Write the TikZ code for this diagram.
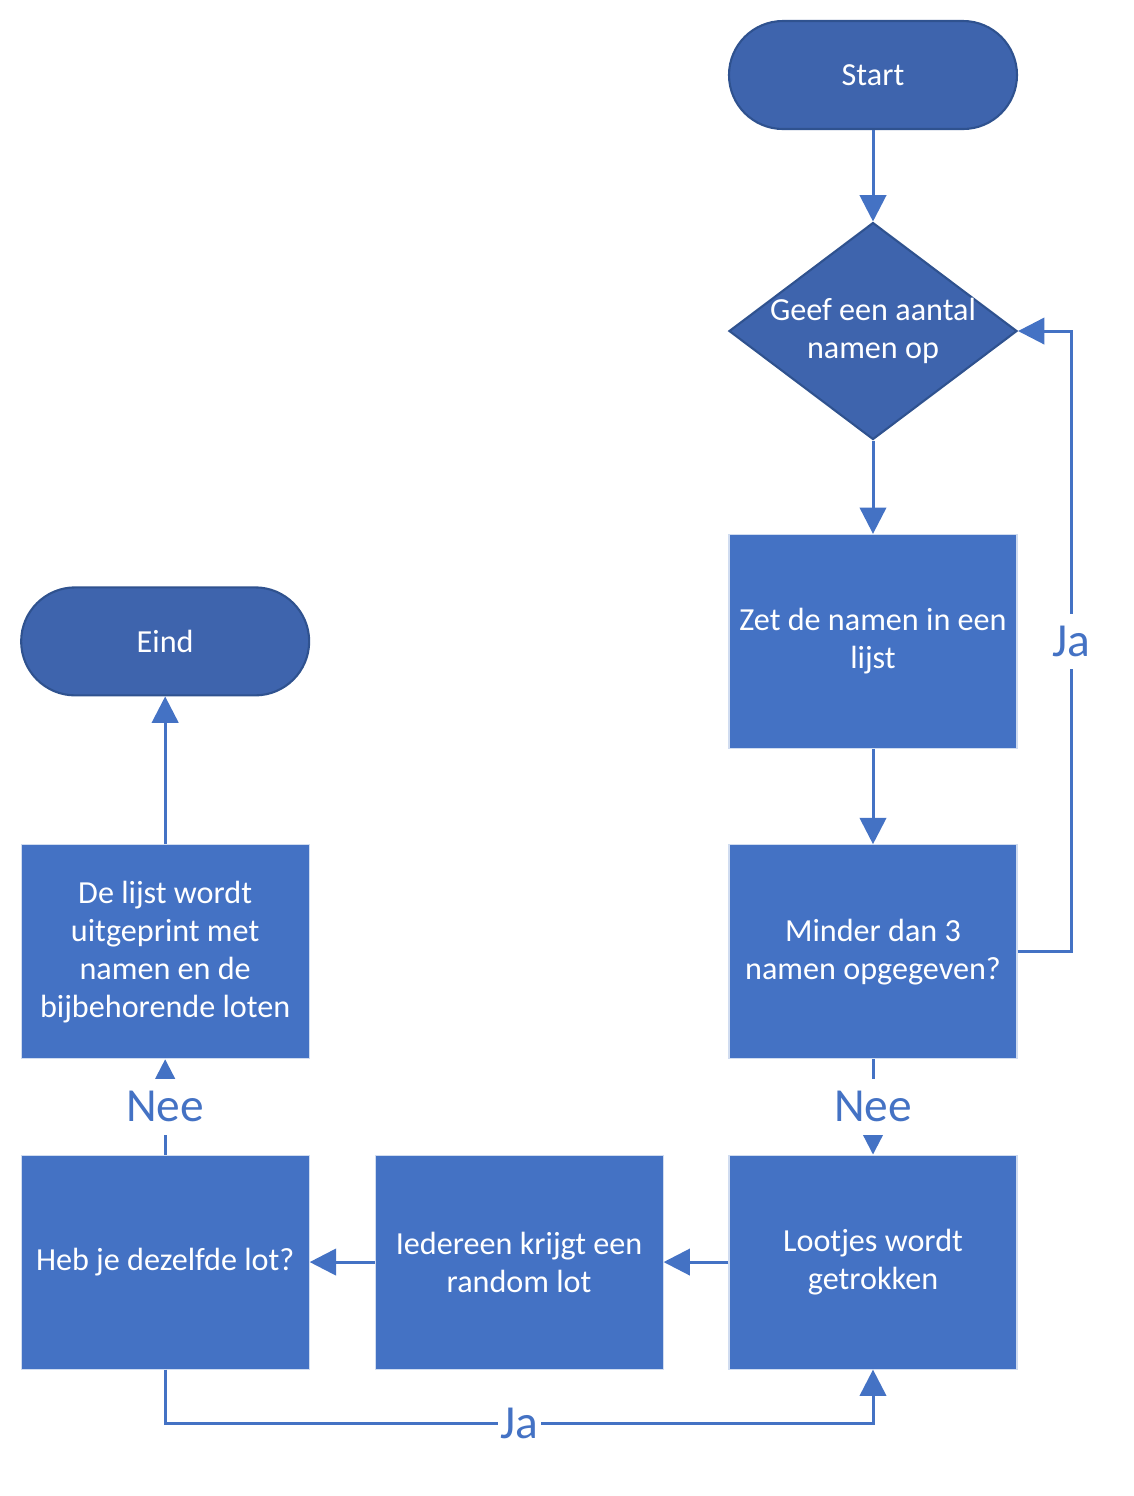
\documentclass[tikz,border=0pt]{standalone}
\usepackage{fontspec}
\setmainfont{Carlito}
\usetikzlibrary{shapes.geometric,arrows.meta}

\definecolor{boxblue}{HTML}{4472C4}
\definecolor{termblue}{HTML}{3E64AD}
\definecolor{edgeblue}{HTML}{2F528F}

\tikzset{
  stepbox/.style={shape=rectangle, fill=boxblue, draw=white!75!boxblue, line width=0.6pt,
    minimum width=5.76cm, minimum height=4.28cm, inner sep=0pt, text=white, align=center,
    font=\fontsize{18.3}{21.6}\selectfont},
  termbox/.style={shape=rectangle, rounded corners=1.08cm, fill=termblue, draw=edgeblue, line width=1.2pt,
    minimum width=5.76cm, minimum height=2.16cm, text=white, font=\fontsize{18.3}{21.6}\selectfont},
  askbox/.style={shape=diamond, fill=termblue, draw=edgeblue, line width=1.2pt, inner sep=0pt,
    minimum width=5.76cm, minimum height=4.34cm},
  flow/.style={draw=boxblue, line width=1.7pt, -{Triangle[length=15pt,width=15pt]}},
  answer/.style={fill=white, text=boxblue, inner xsep=1.5pt, inner ysep=7pt, font=\fontsize{27}{30}\selectfont}
}

\begin{document}
\begin{tikzpicture}[node distance=176.6pt]
\useasboundingbox (0,0) rectangle (22.68,-29.92);

\node [termbox] (N1) at (17.46,-1.5) {Start};
\node [askbox, below of=N1, node distance=145.7pt,
  label={[text=white, align=center, font=\fontsize{18.3}{21.6}\selectfont]center:Geef een aantal\\namen op}] (N2) {};
\node [stepbox, below of=N2] (N3) {Zet de namen in een\\lijst};
\node [stepbox, below of=N3] (N4) {Minder dan 3\\namen opgegeven?};
\node [stepbox, below of=N4] (N5) {Lootjes wordt\\getrokken};
\node [stepbox, left of=N5, node distance=201.4pt] (N6) {Iedereen krijgt een\\random lot};
\node [stepbox, left of=N6, node distance=201.4pt] (N7) {Heb je dezelfde lot?};
\node [stepbox, above of=N7] (N8) {De lijst wordt\\uitgeprint met\\namen en de\\bijbehorende loten};
\node [termbox, above of=N8] (N9) {Eind};

\draw[flow] (N1) -- (N2);
\draw[flow] (N2) -- (N3);
\draw[flow] (N3) -- (N4);
\draw[flow] (N4.east) -- ++(1.08,0) |- node [answer, pos=0.25] {Ja} (N2.east);
\draw[flow] (N4) -- node [answer, midway] {Nee} (N5);
\draw[flow] (N5) -- (N6);
\draw[flow] (N6) -- (N7);
\draw[flow] (N7.south) -- ++(0,-1.08) -| node [answer, pos=0.25] {Ja} (N5.south);
\draw[flow] (N7) -- node [answer, midway] {Nee} (N8);
\draw[flow] (N8) -- (N9);
\end{tikzpicture}
\end{document}
